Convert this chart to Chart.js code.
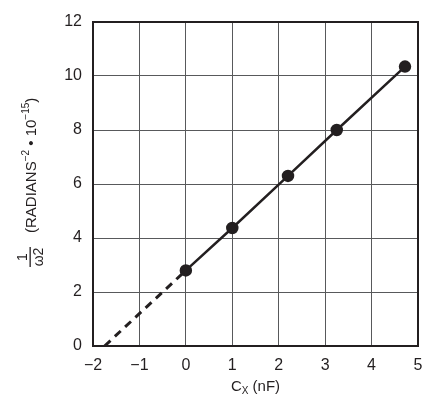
<!DOCTYPE html>
<html><head><meta charset="utf-8">
<script src="https://cdn.jsdelivr.net/npm/chart.js@4"></script>
<style>html,body{margin:0;padding:0;background:#fff}#wrap{width:435px;height:403px}</style>
</head><body><div id="wrap"><canvas id="c" width="435" height="403"></canvas></div>
<script>
const cxValues = [0, 1, 2.2, 3.25, 4.72];
const invOmegaSq = [2.8, 4.37, 6.3, 8.0, 10.35];
const extrapX = [-1.75, 0];
const extrapY = [0, 2.8];
const xTicks = [-2, -1, 0, 1, 2, 3, 4, 5];
const yTicks = [0, 2, 4, 6, 8, 10, 12];

const FONT = "'Liberation Sans Narrow','Arial Narrow','Liberation Sans',Arial,sans-serif";
const TXT = '#231f20';

const measured = cxValues.map((x, i) => ({x, y: invOmegaSq[i]}));
const extrap = extrapX.map((x, i) => ({x, y: extrapY[i]}));

const labelsPlugin = {
  id: 'labels',
  afterDraw(chart) {
    const ctx = chart.ctx, a = chart.chartArea;
    ctx.save();
    // frame
    ctx.strokeStyle = '#231f20'; ctx.lineWidth = 2;
    ctx.strokeRect(a.left, a.top, a.right - a.left, a.bottom - a.top);
    ctx.fillStyle = TXT;
    // x title: C_X (nF)
    const xc = (a.left + a.right) / 2, yb = 391;
    ctx.textBaseline = 'alphabetic';
    const p1 = 'C', p2 = 'X', p3 = ' (nF)';
    ctx.font = '15px ' + FONT; const w1 = ctx.measureText(p1).width;
    ctx.font = '10px ' + FONT; const w2 = ctx.measureText(p2).width;
    ctx.font = '15px ' + FONT; const w3 = ctx.measureText(p3).width;
    let x0 = xc - (w1 + w2 + w3) / 2;
    ctx.textAlign = 'left';
    ctx.font = '15px ' + FONT; ctx.fillText(p1, x0, yb); x0 += w1;
    ctx.font = '10px ' + FONT; ctx.fillText(p2, x0, yb + 3); x0 += w2;
    ctx.font = '15px ' + FONT; ctx.fillText(p3, x0, yb);
    // y title rotated
    ctx.translate(38, 190);
    ctx.rotate(-Math.PI / 2);
    const fracX = -67;
    ctx.textAlign = 'center';
    ctx.font = '14px ' + FONT;
    ctx.fillText('1', fracX, -11);
    ctx.fillRect(fracX - 10, -8.5, 20, 1.3);
    ctx.fillText('\u03C92', fracX, 5);
    ctx.textAlign = 'left';
    const parts = [
      ['(RADIANS', 15, 0], ['\u22122', 10, -7], [' \u2022 10', 15, 0], ['\u221215', 10, -7], [')', 15, 0]
    ];
    let px = -43;
    for (const [t, s, dy] of parts) {
      ctx.font = s + 'px ' + FONT;
      ctx.fillText(t, px, -2 + dy);
      px += ctx.measureText(t).width;
    }
    ctx.restore();
  }
};

new Chart(document.getElementById('c'), {
  type: 'scatter',
  data: {
    datasets: [
      {data: measured, showLine: true, borderColor: '#231f20', backgroundColor: '#231f20',
       borderWidth: 2.5, pointRadius: 5, pointHoverRadius: 5},
      {data: extrap, showLine: true, borderColor: '#231f20', borderWidth: 3,
       borderDash: [8, 6], pointRadius: 0}
    ]
  },
  plugins: [labelsPlugin],
  options: {
    responsive: false, animation: false, devicePixelRatio: 1,
    layout: {padding: {left: 0, right: 17, top: 22, bottom: 0}},
    plugins: {legend: {display: false}, tooltip: {enabled: false}},
    scales: {
      x: {
        type: 'linear', min: -2, max: 5,
        afterBuildTicks(s) { s.ticks = xTicks.map(v => ({value: v})); },
        afterFit(s) { s.height = 57; },
        grid: {color: '#58595b', lineWidth: 1, drawTicks: false},
        border: {display: false},
        ticks: {color: TXT, font: {family: FONT, size: 16}, padding: 10,
                callback: v => String(v).replace('-', '\u2212')}
      },
      y: {
        min: 0, max: 12,
        afterBuildTicks(s) { s.ticks = yTicks.map(v => ({value: v})); },
        afterFit(s) { s.width = 93; },
        grid: {color: '#58595b', lineWidth: 1, drawTicks: false},
        border: {display: false},
        ticks: {color: TXT, font: {family: FONT, size: 16}, padding: 11}
      }
    }
  }
});
</script></body></html>
